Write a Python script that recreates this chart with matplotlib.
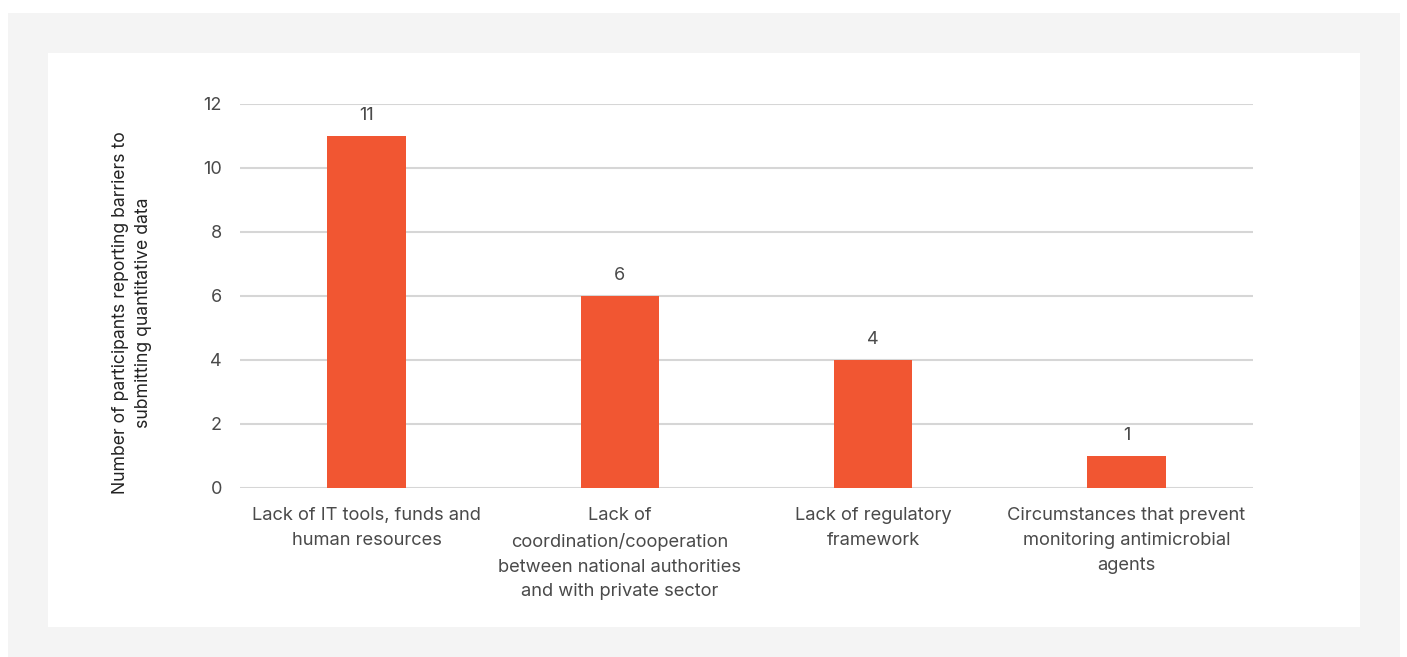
import matplotlib
matplotlib.use("Agg")
import matplotlib.pyplot as plt
from matplotlib.patches import Rectangle

categories = [
    "Lack of IT tools, funds and\nhuman resources",
    "Lack of\ncoordination/cooperation\nbetween national authorities\nand with private sector",
    "Lack of regulatory\nframework",
    "Circumstances that prevent\nmonitoring antimicrobial\nagents",
]
values = [11, 6, 4, 1]
yticks = [0, 2, 4, 6, 8, 10, 12]
ylabel = "Number of participants reporting barriers to\nsubmitting quantitative data"

plt.rcParams['font.family'] = ['Inter', 'DejaVu Sans']
W, H = 1407, 657
fig = plt.figure(figsize=(W / 100, H / 100), dpi=100)
fig.patch.set_facecolor("white")

def px_rect(x0, y0, x1, y1, color):
    fig.patches.append(Rectangle((x0 / W, 1 - y1 / H), (x1 - x0) / W, (y1 - y0) / H,
                                 transform=fig.transFigure, facecolor=color,
                                 edgecolor="none", zorder=-10))

px_rect(8, 13, 1400, 657, "#f4f4f4")
px_rect(48, 53, 1360, 627, "#ffffff")

ax = fig.add_axes([240 / W, 1 - 488 / H, (1253 - 240) / W, (488 - 104) / H])
ax.set_facecolor("none")
text_color = "#4a4a4a"
bar_color = "#f15632"

x = list(range(len(categories)))
bars = ax.bar(x, values, width=0.31, color=bar_color, zorder=3)
ax.bar_label(bars, labels=[str(v) for v in values], padding=9, fontsize=13, color=text_color)

ax.set_xlim(-0.5, len(categories) - 0.5)
ax.set_ylim(0, 12)
ax.set_yticks(yticks)
ax.set_yticklabels([str(t) for t in yticks], fontsize=13, color=text_color)
ax.set_xticks(x)
ax.set_xticklabels(categories, fontsize=13.2, color=text_color, linespacing=1.6)
ax.tick_params(axis="both", length=0)
ax.tick_params(axis="y", pad=13)
ax.tick_params(axis="x", pad=14)
ax.grid(axis="y", color="#d6d6d6", linewidth=1.5, zorder=0)
ax.set_axisbelow(True)
for s in ax.spines.values():
    s.set_visible(False)

fig.text(132 / W, 1 - 313 / H, ylabel, rotation=90, ha="center", va="center",
         fontsize=12.7, color="#222222", linespacing=1.4)

fig.savefig("out.png", dpi=100)
